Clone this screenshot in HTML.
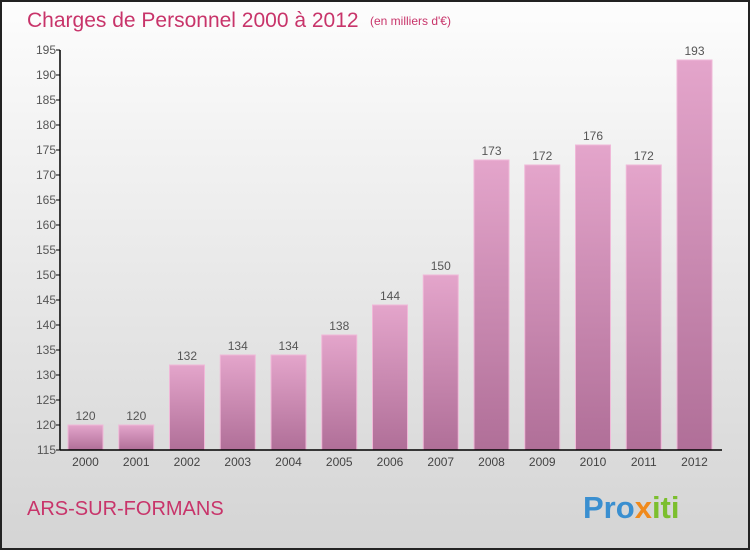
<!DOCTYPE html>
<html><head><meta charset="utf-8"><style>
body{margin:0;width:750px;height:550px;overflow:hidden;font-family:"Liberation Sans",sans-serif}
</style></head><body>
<svg width="750" height="550" xmlns="http://www.w3.org/2000/svg">
<defs>
<linearGradient id="bg" x1="0" y1="0" x2="0" y2="1"><stop offset="0" stop-color="#fdfdfd"/><stop offset="1" stop-color="#d4d4d4"/></linearGradient>
<linearGradient id="bar" x1="0" y1="0" x2="0" y2="1"><stop offset="0" stop-color="#e4a5cb"/><stop offset="1" stop-color="#b06f98"/></linearGradient>
</defs>
<rect x="1" y="1" width="748" height="548" fill="url(#bg)" stroke="#222" stroke-width="2"/>
<text x="27" y="27" font-size="21" fill="#c8346a">Charges de Personnel 2000 à 2012</text>
<text x="370" y="25" font-size="12" fill="#c8346a">(en milliers d'€)</text>
<g id="plot"></g>
<text x="27" y="515" font-size="20" fill="#c8346a">ARS-SUR-FORMANS</text>
<text x="583" y="518" font-size="31" font-weight="bold"><tspan fill="#3a8fd0">Pro</tspan><tspan fill="#f08a1c">x</tspan><tspan fill="#7cbf2e">iti</tspan></text>
</svg>
<script>
const years=["2000","2001","2002","2003","2004","2005","2006","2007","2008","2009","2010","2011","2012"];
const values=[120,120,132,134,134,138,144,150,173,172,176,172,193];
const ticks=[115,120,125,130,135,140,145,150,155,160,165,170,175,180,185,190,195];
const NS="http://www.w3.org/2000/svg";
const g=document.getElementById('plot');
const y=v=>450-(v-115)*5;
const x=i=>85.5+i*50.75;
function el(t,a,txt){const e=document.createElementNS(NS,t);for(const k in a)e.setAttribute(k,a[k]);if(txt!=null)e.textContent=txt;g.appendChild(e);return e;}
values.forEach((v,i)=>{
 const r=el('rect',{x:x(i)-17.5,y:y(v),width:35,height:450-y(v),fill:'url(#bar)',stroke:'#f0b8d8','stroke-width':1});
 
 
 const l=el('text',{x:x(i),y:y(v)-5,'font-size':12,'text-anchor':'middle',fill:'#555'},v);
 
 
 const t=el('text',{x:x(i),y:466,'font-size':12,'text-anchor':'middle',fill:'#444'},years[i]);
 
 
});
ticks.forEach(v=>{
 const tl=el('line',{x1:56,x2:60,y1:y(v),y2:y(v),stroke:'#000'});
 
 
 const t=el('text',{x:56,y:y(v)+4,'font-size':12,'text-anchor':'end',fill:'#555'},v);
 
 
});
const ya=el('line',{x1:60,x2:60,y1:50,y2:450,stroke:'#000','stroke-width':1.5});


const xa=el('line',{x1:60,x2:722,y1:450,y2:450,stroke:'#000','stroke-width':1.5});


</script>
</body></html>
